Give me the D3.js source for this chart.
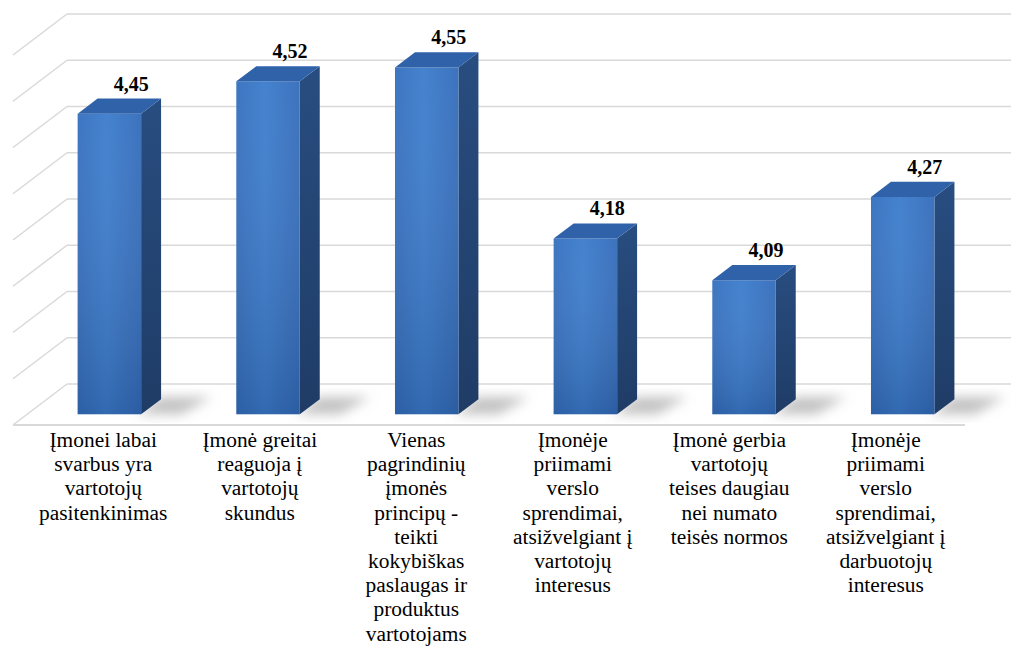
<!DOCTYPE html>
<html>
<head>
<meta charset="utf-8">
<script src="https://cdn.jsdelivr.net/npm/d3@7"></script>
<style>
  html, body { margin: 0; padding: 0; background: #ffffff; }
  svg { display: block; }
</style>
</head>
<body>
<svg id="chart" width="1011" height="646"></svg>
<script>
// ---- data ----
const categories = ["c1", "c2", "c3", "c4", "c5", "c6"];
const categoryLines = [
  ["Įmonei labai", "svarbus yra", "vartotojų", "pasitenkinimas"],
  ["Įmonė greitai", "reaguoja į", "vartotojų", "skundus"],
  ["Vienas", "pagrindinių", "įmonės", "principų -", "teikti", "kokybiškas", "paslaugas ir", "produktus", "vartotojams"],
  ["Įmonėje", "priimami", "verslo", "sprendimai,", "atsižvelgiant į", "vartotojų", "interesus"],
  ["Įmonė gerbia", "vartotojų", "teises daugiau", "nei numato", "teisės normos"],
  ["Įmonėje", "priimami", "verslo", "sprendimai,", "atsižvelgiant į", "darbuotojų", "interesus"]
];
const values = [4.45, 4.52, 4.55, 4.18, 4.09, 4.27];
const valueLabels = ["4,45", "4,52", "4,55", "4,18", "4,09", "4,27"];
const gridTicks = [3.8, 3.9, 4.0, 4.1, 4.2, 4.3, 4.4, 4.5, 4.6];

// ---- layout ----
const svg = d3.select("#chart");
const FONT = "Liberation Serif";
const DX = 54, DY = 41;          // oblique depth offset (front floor -> back wall)
const zFront = 0.26, zBack = 0.63; // bar depth span
const floorLeft = 13, floorRight = 965;

const y = d3.scaleLinear().domain([3.8, 4.6]).range([384, 14]); // on back wall
const x = d3.scaleBand().domain(categories).range([16, 968]).paddingInner(0.6).paddingOuter(0.3);
const xl = d3.scaleBand().domain(categories).range([25, 964]);

function P(xf, v, z) { return [xf + z * DX, y(v) + (1 - z) * DY]; }
const pts = a => a.map(p => p.join(",")).join(" ");

const defs = svg.append("defs");
const gFront = defs.append("linearGradient").attr("id", "gFront").attr("x1", 0).attr("x2", 1).attr("y1", 0).attr("y2", 0);
gFront.append("stop").attr("offset", "0%").attr("stop-color", "#3670be");
gFront.append("stop").attr("offset", "45%").attr("stop-color", "#3d7dcd");
gFront.append("stop").attr("offset", "100%").attr("stop-color", "#356dba");
const gShade = defs.append("linearGradient").attr("id", "gShade").attr("x1", 0).attr("x2", 0).attr("y1", 0).attr("y2", 1);
gShade.append("stop").attr("offset", "0%").attr("stop-color", "#ffffff").attr("stop-opacity", 0.04);
gShade.append("stop").attr("offset", "100%").attr("stop-color", "#001030").attr("stop-opacity", 0.18);
const gSide = defs.append("linearGradient").attr("id", "gSide").attr("x1", 0).attr("x2", 0).attr("y1", 0).attr("y2", 1);
gSide.append("stop").attr("offset", "0%").attr("stop-color", "#284d80");
gSide.append("stop").attr("offset", "100%").attr("stop-color", "#1f3c66");
const blur = defs.append("filter").attr("id", "blur").attr("x", "-50%").attr("y", "-50%").attr("width", "200%").attr("height", "200%");
blur.append("feGaussianBlur").attr("stdDeviation", 6);

// ---- walls / grid ----
const grid = svg.append("g");
gridTicks.forEach(t => {
  grid.append("line")
    .attr("x1", floorLeft + DX).attr("x2", 1011)
    .attr("y1", y(t)).attr("y2", y(t))
    .attr("stroke", "#d9d9d9").attr("stroke-width", 1.5);
  grid.append("line")
    .attr("x1", floorLeft + DX).attr("y1", y(t))
    .attr("x2", floorLeft).attr("y2", y(t) + DY)
    .attr("stroke", "#d9d9d9").attr("stroke-width", 1.5);
});
grid.append("line")
  .attr("x1", floorLeft).attr("x2", floorRight)
  .attr("y1", y(3.8) + DY).attr("y2", y(3.8) + DY)
  .attr("stroke", "#d9d9d9").attr("stroke-width", 2);

// ---- shadows ----
const shadows = svg.append("g").attr("filter", "url(#blur)");
categories.forEach((c, i) => {
  const xr = x(c) + x.bandwidth();
  const a = P(xr - 4, 3.8, zFront), b = P(xr - 4, 3.8, zBack + 0.05);
  const cc = P(xr + 48, 3.8, zBack + 0.05), d = P(xr + 40, 3.8, zFront);
  shadows.append("polygon").attr("points", pts([a, b, cc, d]))
    .attr("fill", "#9a9a9a").attr("opacity", 0.6);
});

// ---- bars ----
const bars = svg.append("g");
categories.forEach((c, i) => {
  const v = values[i];
  const xa = x(c), xb = x(c) + x.bandwidth();
  const fTL = P(xa, v, zFront), fTR = P(xb, v, zFront);
  const fBL = P(xa, 3.8, zFront), fBR = P(xb, 3.8, zFront);
  const bTL = P(xa, v, zBack), bTR = P(xb, v, zBack), bBR = P(xb, 3.8, zBack);
  bars.append("polygon").attr("points", pts([fTR, bTR, bBR, fBR])).attr("fill", "url(#gSide)");
  bars.append("polygon").attr("points", pts([fTL, fTR, fBR, fBL])).attr("fill", "url(#gFront)");
  bars.append("polygon").attr("points", pts([fTL, fTR, fBR, fBL])).attr("fill", "url(#gShade)");
  bars.append("polygon").attr("points", pts([fTL, bTL, bTR, fTR])).attr("fill", "#2f62a8");
  bars.append("text")
    .attr("x", (bTL[0] + bTR[0]) / 2 + 2)
    .attr("y", bTL[1] - 8)
    .attr("text-anchor", "middle")
    .attr("font-family", FONT)
    .attr("font-weight", "bold")
    .attr("font-size", 20)
    .attr("fill", "#000")
    .text(valueLabels[i]);
});

// ---- category labels ----
const labels = svg.append("g");
categories.forEach((c, i) => {
  const cx = xl(c) + xl.bandwidth() / 2;
  categoryLines[i].forEach((ln, j) => {
    labels.append("text")
      .attr("transform", `translate(${cx},${447 + j * 24.2}) scale(1.07,1)`)
      .attr("text-anchor", "middle")
      .attr("font-family", FONT)
      .attr("font-size", 20)
      .attr("fill", "#000")
      .text(ln);
  });
});
</script>
</body>
</html>
